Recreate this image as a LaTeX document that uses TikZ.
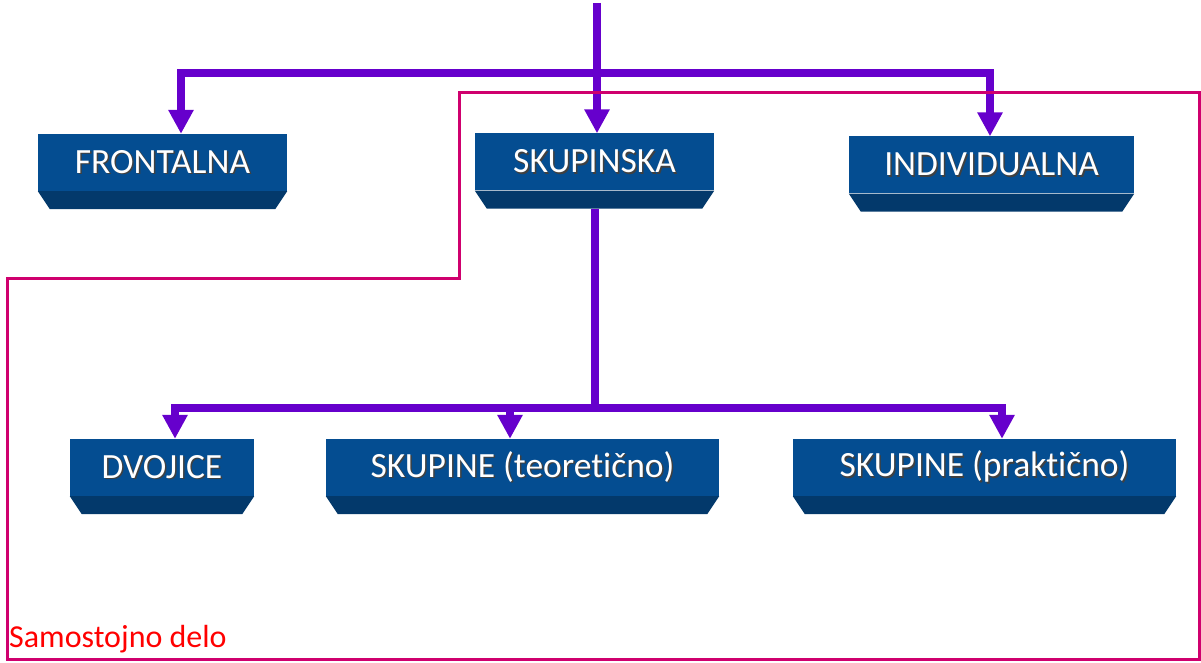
\documentclass[tikz,border=0pt]{standalone}
\usepackage{fontspec}
\setmainfont{Carlito}[Ligatures=NoCommon]
\usepackage{xcolor}
\usepackage{tikz}
\usetikzlibrary{arrows.meta}

\definecolor{boxblue}{HTML}{044D91}
\definecolor{boxdark}{HTML}{03396B}
\definecolor{flowpurple}{HTML}{6600CC}
\definecolor{framepink}{HTML}{CF006E}
\newcommand{\boxlabel}[1]{\rlap{\kern1.5pt\raisebox{-1.5pt}{\textcolor{black!75}{#1}}}\textcolor{white}{#1}}

\tikzset{
  form/.style={fill=boxblue, inner sep=0pt, minimum height=57pt, font=\fontsize{35.5}{40}\selectfont},
  flow/.style={draw=flowpurple, line width=8pt, -{Triangle[width=24pt,length=24pt]}},
  bus/.style={draw=flowpurple, line width=8pt},
  frame/.style={draw=framepink, line width=3pt}
}

\begin{document}
\begin{tikzpicture}[x=1pt, y=-1pt]
        \useasboundingbox (0,0) rectangle (1201,663);

        \node[form, minimum width=249pt] (Frontalna) at (162.5,162.5) {\boxlabel{FRONTALNA}};
        \node[form, minimum width=239pt] (Skupinska) at (594.5,162) {\boxlabel{SKUPINSKA}};
        \node[form, minimum width=285pt] (Individualna) at (991.5,165) {\boxlabel{INDIVIDUALNA}};
        \node[form, minimum width=184pt] (Dvojice) at (162,467.5) {\boxlabel{DVOJICE}};
        \node[form, minimum width=393pt] (Teoreticno) at (522.5,467.5) {\boxlabel{SKUPINE (teoretično)}};
        \node[form, minimum width=383pt] (Prakticno) at (984.5,467.5) {\boxlabel{SKUPINE (praktično)}};

        \foreach \n in {Frontalna,Skupinska,Individualna,Dvojice,Teoreticno,Prakticno}
            \fill[boxdark] (\n.south west) -- (\n.south east) -- ([shift={(-12,18)}]\n.south east) -- ([shift={(12,18)}]\n.south west) -- cycle;

        \coordinate (Top) at (597,3);
        \coordinate (Hub) at (597,73);
        \coordinate (Fork) at (594.5,408);

        \draw[flow] (Top) -- (Top |- Skupinska.north);
        \draw[flow] (Hub) -| ([xshift=18.5pt]Frontalna.north);
        \draw[flow] (Hub) -| ([xshift=-1.5pt]Individualna.north);

        \draw[bus] ([yshift=-18pt]Skupinska.south) -- (Fork);
        \draw[flow] (Fork) -| ([xshift=13pt]Dvojice.north);
        \draw[flow] (Fork) -| ([xshift=-12.5pt]Teoreticno.north);
        \draw[flow] (Fork) -| ([xshift=17.5pt]Prakticno.north);

        \draw[frame] (459,93) -- (1199,93) -- (1199,659) -- (7,659) -- (7,278) -- (459,278) -- cycle;
        \node[anchor=base west, text=red, inner sep=0pt, font=\fontsize{32}{36}\selectfont] (Samostojno) at (9,647) {Samostojno delo};
    \end{tikzpicture}
\end{document}
